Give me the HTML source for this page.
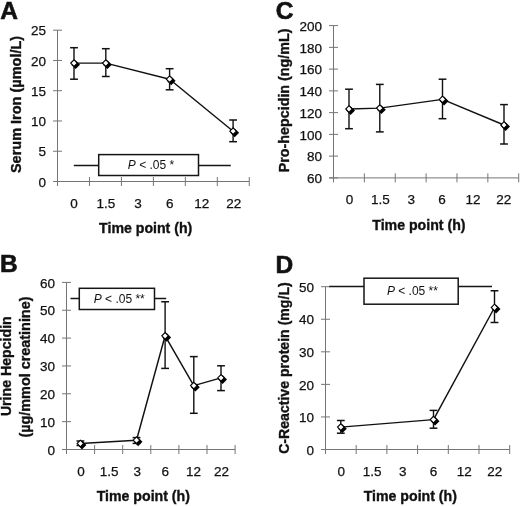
<!DOCTYPE html>
<html><head><meta charset="utf-8"><title>Figure</title>
<style>
html,body{margin:0;padding:0;background:#fff;}
body{width:520px;height:506px;overflow:hidden;}
svg{display:block;will-change:transform;font-family:"Liberation Sans",sans-serif;}
.t{stroke:#111;stroke-width:0.25px;}
.tb{stroke:#111;stroke-width:0.35px;}
</style></head>
<body>
<svg width="520" height="506" viewBox="0 0 520 506" fill="#111">
<rect width="520" height="506" fill="#fff"/>
<line x1="57.5" y1="30.2" x2="57.5" y2="181.5" stroke="#757575" stroke-width="1"/>
<line x1="53" y1="181.5" x2="249.26" y2="181.5" stroke="#757575" stroke-width="1"/>
<line x1="53" y1="181.5" x2="62" y2="181.5" stroke="#757575" stroke-width="1"/>
<text x="46" y="186.7" text-anchor="end" font-size="13.5" class="t">0</text>
<line x1="53" y1="151.24" x2="62" y2="151.24" stroke="#757575" stroke-width="1"/>
<text x="46" y="156.44" text-anchor="end" font-size="13.5" class="t">5</text>
<line x1="53" y1="120.98" x2="62" y2="120.98" stroke="#757575" stroke-width="1"/>
<text x="46" y="126.18" text-anchor="end" font-size="13.5" class="t">10</text>
<line x1="53" y1="90.72" x2="62" y2="90.72" stroke="#757575" stroke-width="1"/>
<text x="46" y="95.92" text-anchor="end" font-size="13.5" class="t">15</text>
<line x1="53" y1="60.46" x2="62" y2="60.46" stroke="#757575" stroke-width="1"/>
<text x="46" y="65.66" text-anchor="end" font-size="13.5" class="t">20</text>
<line x1="53" y1="30.2" x2="62" y2="30.2" stroke="#757575" stroke-width="1"/>
<text x="46" y="35.4" text-anchor="end" font-size="13.5" class="t">25</text>
<line x1="57.5" y1="177" x2="57.5" y2="186" stroke="#757575" stroke-width="1"/>
<line x1="89.46" y1="177" x2="89.46" y2="186" stroke="#757575" stroke-width="1"/>
<line x1="121.42" y1="177" x2="121.42" y2="186" stroke="#757575" stroke-width="1"/>
<line x1="153.38" y1="177" x2="153.38" y2="186" stroke="#757575" stroke-width="1"/>
<line x1="185.34" y1="177" x2="185.34" y2="186" stroke="#757575" stroke-width="1"/>
<line x1="217.3" y1="177" x2="217.3" y2="186" stroke="#757575" stroke-width="1"/>
<line x1="249.26" y1="177" x2="249.26" y2="186" stroke="#757575" stroke-width="1"/>
<text x="73.98" y="207.7" text-anchor="middle" font-size="13.5" class="t">0</text>
<text x="105.94" y="207.7" text-anchor="middle" font-size="13.5" class="t">1.5</text>
<text x="137.9" y="207.7" text-anchor="middle" font-size="13.5" class="t">3</text>
<text x="169.86" y="207.7" text-anchor="middle" font-size="13.5" class="t">6</text>
<text x="201.82" y="207.7" text-anchor="middle" font-size="13.5" class="t">12</text>
<text x="233.78" y="207.7" text-anchor="middle" font-size="13.5" class="t">22</text>
<text x="99.1" y="232.6" font-size="14.15" font-weight="bold" class="tb">Time point (h)</text>
<text transform="translate(21,104.45) rotate(-90)" x="0" y="0" text-anchor="middle" font-size="14.5" font-weight="bold" class="tb">Serum Iron (&#181;mol/L)</text>
<text x="0.3" y="19.3" font-size="24.5" font-weight="bold" stroke="#111" stroke-width="0.6">A</text>
<line x1="73.8" y1="165.5" x2="230.8" y2="165.5" stroke="#151515" stroke-width="1.35"/>
<rect x="98.7" y="154.6" width="99.8" height="20.9" fill="#fff" stroke="#151515" stroke-width="1.5"/>
<text x="127.8" y="169.3" font-size="12"><tspan font-style="italic">P</tspan> &lt; .05 *</text>
<line x1="74" y1="47.7" x2="74" y2="79.2" stroke="#111" stroke-width="1.4"/>
<line x1="70.1" y1="47.7" x2="77.9" y2="47.7" stroke="#111" stroke-width="1.5"/>
<line x1="70.1" y1="79.2" x2="77.9" y2="79.2" stroke="#111" stroke-width="1.5"/>
<line x1="105.8" y1="48.7" x2="105.8" y2="76.5" stroke="#111" stroke-width="1.4"/>
<line x1="101.9" y1="48.7" x2="109.7" y2="48.7" stroke="#111" stroke-width="1.5"/>
<line x1="101.9" y1="76.5" x2="109.7" y2="76.5" stroke="#111" stroke-width="1.5"/>
<line x1="169.6" y1="68.7" x2="169.6" y2="89.8" stroke="#111" stroke-width="1.4"/>
<line x1="165.7" y1="68.7" x2="173.5" y2="68.7" stroke="#111" stroke-width="1.5"/>
<line x1="165.7" y1="89.8" x2="173.5" y2="89.8" stroke="#111" stroke-width="1.5"/>
<line x1="233.1" y1="120" x2="233.1" y2="141.7" stroke="#111" stroke-width="1.4"/>
<line x1="229.2" y1="120" x2="237" y2="120" stroke="#111" stroke-width="1.5"/>
<line x1="229.2" y1="141.7" x2="237" y2="141.7" stroke="#111" stroke-width="1.5"/>
<polyline points="74,63.1 105.8,63.1 169.6,79.2 233.1,131.2" fill="none" stroke="#111" stroke-width="1.45" stroke-linejoin="round"/>
<path d="M75.6 60.3L80 64.7L75.6 69.1L71.2 64.7Z" fill="#000"/>
<path d="M74 59.8L77.3 63.1L74 66.4L70.7 63.1Z" fill="#fff" stroke="#000" stroke-width="1.1"/>
<path d="M107.4 60.3L111.8 64.7L107.4 69.1L103 64.7Z" fill="#000"/>
<path d="M105.8 59.8L109.1 63.1L105.8 66.4L102.5 63.1Z" fill="#fff" stroke="#000" stroke-width="1.1"/>
<path d="M171.2 76.4L175.6 80.8L171.2 85.2L166.8 80.8Z" fill="#000"/>
<path d="M169.6 75.9L172.9 79.2L169.6 82.5L166.3 79.2Z" fill="#fff" stroke="#000" stroke-width="1.1"/>
<path d="M234.7 128.4L239.1 132.8L234.7 137.2L230.3 132.8Z" fill="#000"/>
<path d="M233.1 127.9L236.4 131.2L233.1 134.5L229.8 131.2Z" fill="#fff" stroke="#000" stroke-width="1.1"/>
<line x1="333.5" y1="25.6" x2="333.5" y2="177.9" stroke="#757575" stroke-width="1"/>
<line x1="329" y1="177.9" x2="518.72" y2="177.9" stroke="#757575" stroke-width="1"/>
<line x1="329" y1="177.9" x2="338" y2="177.9" stroke="#757575" stroke-width="1"/>
<text x="322" y="183.1" text-anchor="end" font-size="13.5" class="t">60</text>
<line x1="329" y1="156.14" x2="338" y2="156.14" stroke="#757575" stroke-width="1"/>
<text x="322" y="161.34" text-anchor="end" font-size="13.5" class="t">80</text>
<line x1="329" y1="134.39" x2="338" y2="134.39" stroke="#757575" stroke-width="1"/>
<text x="322" y="139.59" text-anchor="end" font-size="13.5" class="t">100</text>
<line x1="329" y1="112.63" x2="338" y2="112.63" stroke="#757575" stroke-width="1"/>
<text x="322" y="117.83" text-anchor="end" font-size="13.5" class="t">120</text>
<line x1="329" y1="90.87" x2="338" y2="90.87" stroke="#757575" stroke-width="1"/>
<text x="322" y="96.07" text-anchor="end" font-size="13.5" class="t">140</text>
<line x1="329" y1="69.11" x2="338" y2="69.11" stroke="#757575" stroke-width="1"/>
<text x="322" y="74.31" text-anchor="end" font-size="13.5" class="t">160</text>
<line x1="329" y1="47.36" x2="338" y2="47.36" stroke="#757575" stroke-width="1"/>
<text x="322" y="52.56" text-anchor="end" font-size="13.5" class="t">180</text>
<line x1="329" y1="25.6" x2="338" y2="25.6" stroke="#757575" stroke-width="1"/>
<text x="322" y="30.8" text-anchor="end" font-size="13.5" class="t">200</text>
<line x1="333.5" y1="173.4" x2="333.5" y2="182.4" stroke="#757575" stroke-width="1"/>
<line x1="364.37" y1="173.4" x2="364.37" y2="182.4" stroke="#757575" stroke-width="1"/>
<line x1="395.24" y1="173.4" x2="395.24" y2="182.4" stroke="#757575" stroke-width="1"/>
<line x1="426.11" y1="173.4" x2="426.11" y2="182.4" stroke="#757575" stroke-width="1"/>
<line x1="456.98" y1="173.4" x2="456.98" y2="182.4" stroke="#757575" stroke-width="1"/>
<line x1="487.85" y1="173.4" x2="487.85" y2="182.4" stroke="#757575" stroke-width="1"/>
<line x1="518.72" y1="173.4" x2="518.72" y2="182.4" stroke="#757575" stroke-width="1"/>
<text x="349.44" y="204.1" text-anchor="middle" font-size="13.5" class="t">0</text>
<text x="380.31" y="204.1" text-anchor="middle" font-size="13.5" class="t">1.5</text>
<text x="411.18" y="204.1" text-anchor="middle" font-size="13.5" class="t">3</text>
<text x="442.05" y="204.1" text-anchor="middle" font-size="13.5" class="t">6</text>
<text x="472.91" y="204.1" text-anchor="middle" font-size="13.5" class="t">12</text>
<text x="503.78" y="204.1" text-anchor="middle" font-size="13.5" class="t">22</text>
<text x="372.3" y="229.6" font-size="14.15" font-weight="bold" class="tb">Time point (h)</text>
<text transform="translate(289.1,100.4) rotate(-90)" x="0" y="0" text-anchor="middle" font-size="14.3" font-weight="bold" class="tb">Pro-hepcidin (ng/mL)</text>
<text x="275.7" y="19.3" font-size="24.5" font-weight="bold" stroke="#111" stroke-width="0.6">C</text>
<line x1="349" y1="89.2" x2="349" y2="128.7" stroke="#111" stroke-width="1.4"/>
<line x1="345.1" y1="89.2" x2="352.9" y2="89.2" stroke="#111" stroke-width="1.5"/>
<line x1="345.1" y1="128.7" x2="352.9" y2="128.7" stroke="#111" stroke-width="1.5"/>
<line x1="379.8" y1="84.4" x2="379.8" y2="131.9" stroke="#111" stroke-width="1.4"/>
<line x1="375.9" y1="84.4" x2="383.7" y2="84.4" stroke="#111" stroke-width="1.5"/>
<line x1="375.9" y1="131.9" x2="383.7" y2="131.9" stroke="#111" stroke-width="1.5"/>
<line x1="442.5" y1="79.2" x2="442.5" y2="118.7" stroke="#111" stroke-width="1.4"/>
<line x1="438.6" y1="79.2" x2="446.4" y2="79.2" stroke="#111" stroke-width="1.5"/>
<line x1="438.6" y1="118.7" x2="446.4" y2="118.7" stroke="#111" stroke-width="1.5"/>
<line x1="504" y1="104.6" x2="504" y2="144" stroke="#111" stroke-width="1.4"/>
<line x1="500.1" y1="104.6" x2="507.9" y2="104.6" stroke="#111" stroke-width="1.5"/>
<line x1="500.1" y1="144" x2="507.9" y2="144" stroke="#111" stroke-width="1.5"/>
<polyline points="349,109 379.8,108.1 442.5,99.4 504,125" fill="none" stroke="#111" stroke-width="1.45" stroke-linejoin="round"/>
<path d="M350.6 106.2L355 110.6L350.6 115L346.2 110.6Z" fill="#000"/>
<path d="M349 105.7L352.3 109L349 112.3L345.7 109Z" fill="#fff" stroke="#000" stroke-width="1.1"/>
<path d="M381.4 105.3L385.8 109.7L381.4 114.1L377 109.7Z" fill="#000"/>
<path d="M379.8 104.8L383.1 108.1L379.8 111.4L376.5 108.1Z" fill="#fff" stroke="#000" stroke-width="1.1"/>
<path d="M444.1 96.6L448.5 101L444.1 105.4L439.7 101Z" fill="#000"/>
<path d="M442.5 96.1L445.8 99.4L442.5 102.7L439.2 99.4Z" fill="#fff" stroke="#000" stroke-width="1.1"/>
<path d="M505.6 122.2L510 126.6L505.6 131L501.2 126.6Z" fill="#000"/>
<path d="M504 121.7L507.3 125L504 128.3L500.7 125Z" fill="#fff" stroke="#000" stroke-width="1.1"/>
<line x1="66.5" y1="282.4" x2="66.5" y2="449.5" stroke="#757575" stroke-width="1"/>
<line x1="62" y1="449.5" x2="235.1" y2="449.5" stroke="#757575" stroke-width="1"/>
<line x1="62" y1="449.5" x2="71" y2="449.5" stroke="#757575" stroke-width="1"/>
<text x="55" y="454.7" text-anchor="end" font-size="13.5" class="t">0</text>
<line x1="62" y1="421.65" x2="71" y2="421.65" stroke="#757575" stroke-width="1"/>
<text x="55" y="426.85" text-anchor="end" font-size="13.5" class="t">10</text>
<line x1="62" y1="393.8" x2="71" y2="393.8" stroke="#757575" stroke-width="1"/>
<text x="55" y="399" text-anchor="end" font-size="13.5" class="t">20</text>
<line x1="62" y1="365.95" x2="71" y2="365.95" stroke="#757575" stroke-width="1"/>
<text x="55" y="371.15" text-anchor="end" font-size="13.5" class="t">30</text>
<line x1="62" y1="338.1" x2="71" y2="338.1" stroke="#757575" stroke-width="1"/>
<text x="55" y="343.3" text-anchor="end" font-size="13.5" class="t">40</text>
<line x1="62" y1="310.25" x2="71" y2="310.25" stroke="#757575" stroke-width="1"/>
<text x="55" y="315.45" text-anchor="end" font-size="13.5" class="t">50</text>
<line x1="62" y1="282.4" x2="71" y2="282.4" stroke="#757575" stroke-width="1"/>
<text x="55" y="287.6" text-anchor="end" font-size="13.5" class="t">60</text>
<line x1="66.5" y1="445" x2="66.5" y2="454" stroke="#757575" stroke-width="1"/>
<line x1="94.6" y1="445" x2="94.6" y2="454" stroke="#757575" stroke-width="1"/>
<line x1="122.7" y1="445" x2="122.7" y2="454" stroke="#757575" stroke-width="1"/>
<line x1="150.8" y1="445" x2="150.8" y2="454" stroke="#757575" stroke-width="1"/>
<line x1="178.9" y1="445" x2="178.9" y2="454" stroke="#757575" stroke-width="1"/>
<line x1="207" y1="445" x2="207" y2="454" stroke="#757575" stroke-width="1"/>
<line x1="235.1" y1="445" x2="235.1" y2="454" stroke="#757575" stroke-width="1"/>
<text x="81.05" y="475.7" text-anchor="middle" font-size="13.5" class="t">0</text>
<text x="109.15" y="475.7" text-anchor="middle" font-size="13.5" class="t">1.5</text>
<text x="137.25" y="475.7" text-anchor="middle" font-size="13.5" class="t">3</text>
<text x="165.35" y="475.7" text-anchor="middle" font-size="13.5" class="t">6</text>
<text x="193.45" y="475.7" text-anchor="middle" font-size="13.5" class="t">12</text>
<text x="221.55" y="475.7" text-anchor="middle" font-size="13.5" class="t">22</text>
<text x="96.7" y="501.3" font-size="14.15" font-weight="bold" class="tb">Time point (h)</text>
<text transform="translate(11,366.2) rotate(-90)" x="0" y="0" text-anchor="middle" font-size="14.15" font-weight="bold" class="tb">Urine Hepcidin</text>
<text transform="translate(29.9,367.05) rotate(-90)" x="0" y="0" text-anchor="middle" font-size="14.4" font-weight="bold" class="tb">(&#181;g/mmol creatinine)</text>
<text x="0" y="271.8" font-size="24.5" font-weight="bold" stroke="#111" stroke-width="0.6">B</text>
<line x1="70.5" y1="298.5" x2="166.2" y2="298.5" stroke="#151515" stroke-width="1.35"/>
<rect x="79.3" y="288.3" width="75.2" height="21.2" fill="#fff" stroke="#151515" stroke-width="1.5"/>
<text x="93.7" y="303" font-size="12"><tspan font-style="italic">P</tspan> &lt; .05 **</text>
<line x1="80.4" y1="441" x2="80.4" y2="445.5" stroke="#111" stroke-width="1.4"/>
<line x1="76.5" y1="441" x2="84.3" y2="441" stroke="#111" stroke-width="1.5"/>
<line x1="76.5" y1="445.5" x2="84.3" y2="445.5" stroke="#111" stroke-width="1.5"/>
<line x1="136.5" y1="437.6" x2="136.5" y2="443.4" stroke="#111" stroke-width="1.4"/>
<line x1="132.6" y1="437.6" x2="140.4" y2="437.6" stroke="#111" stroke-width="1.5"/>
<line x1="132.6" y1="443.4" x2="140.4" y2="443.4" stroke="#111" stroke-width="1.5"/>
<line x1="165.1" y1="301.75" x2="165.1" y2="368.4" stroke="#111" stroke-width="1.4"/>
<line x1="161.2" y1="301.75" x2="169" y2="301.75" stroke="#111" stroke-width="1.5"/>
<line x1="161.2" y1="368.4" x2="169" y2="368.4" stroke="#111" stroke-width="1.5"/>
<line x1="193.8" y1="356.6" x2="193.8" y2="413.3" stroke="#111" stroke-width="1.4"/>
<line x1="189.9" y1="356.6" x2="197.7" y2="356.6" stroke="#111" stroke-width="1.5"/>
<line x1="189.9" y1="413.3" x2="197.7" y2="413.3" stroke="#111" stroke-width="1.5"/>
<line x1="221" y1="365.8" x2="221" y2="390.6" stroke="#111" stroke-width="1.4"/>
<line x1="217.1" y1="365.8" x2="224.9" y2="365.8" stroke="#111" stroke-width="1.5"/>
<line x1="217.1" y1="390.6" x2="224.9" y2="390.6" stroke="#111" stroke-width="1.5"/>
<polyline points="80.4,443.5 136.5,440.2 165.1,335.8 193.8,385.6 221,377.9" fill="none" stroke="#111" stroke-width="1.45" stroke-linejoin="round"/>
<path d="M82 440.7L86.4 445.1L82 449.5L77.6 445.1Z" fill="#000"/>
<path d="M80.4 440.2L83.7 443.5L80.4 446.8L77.1 443.5Z" fill="#fff" stroke="#000" stroke-width="1.1"/>
<path d="M138.1 437.4L142.5 441.8L138.1 446.2L133.7 441.8Z" fill="#000"/>
<path d="M136.5 436.9L139.8 440.2L136.5 443.5L133.2 440.2Z" fill="#fff" stroke="#000" stroke-width="1.1"/>
<path d="M166.7 333L171.1 337.4L166.7 341.8L162.3 337.4Z" fill="#000"/>
<path d="M165.1 332.5L168.4 335.8L165.1 339.1L161.8 335.8Z" fill="#fff" stroke="#000" stroke-width="1.1"/>
<path d="M195.4 382.8L199.8 387.2L195.4 391.6L191 387.2Z" fill="#000"/>
<path d="M193.8 382.3L197.1 385.6L193.8 388.9L190.5 385.6Z" fill="#fff" stroke="#000" stroke-width="1.1"/>
<path d="M222.6 375.1L227 379.5L222.6 383.9L218.2 379.5Z" fill="#000"/>
<path d="M221 374.6L224.3 377.9L221 381.2L217.7 377.9Z" fill="#fff" stroke="#000" stroke-width="1.1"/>
<line x1="325.5" y1="286.7" x2="325.5" y2="449.5" stroke="#757575" stroke-width="1"/>
<line x1="321" y1="449.5" x2="509.7" y2="449.5" stroke="#757575" stroke-width="1"/>
<line x1="321" y1="449.5" x2="330" y2="449.5" stroke="#757575" stroke-width="1"/>
<text x="314" y="454.7" text-anchor="end" font-size="13.5" class="t">0</text>
<line x1="321" y1="416.94" x2="330" y2="416.94" stroke="#757575" stroke-width="1"/>
<text x="314" y="422.14" text-anchor="end" font-size="13.5" class="t">10</text>
<line x1="321" y1="384.38" x2="330" y2="384.38" stroke="#757575" stroke-width="1"/>
<text x="314" y="389.58" text-anchor="end" font-size="13.5" class="t">20</text>
<line x1="321" y1="351.82" x2="330" y2="351.82" stroke="#757575" stroke-width="1"/>
<text x="314" y="357.02" text-anchor="end" font-size="13.5" class="t">30</text>
<line x1="321" y1="319.26" x2="330" y2="319.26" stroke="#757575" stroke-width="1"/>
<text x="314" y="324.46" text-anchor="end" font-size="13.5" class="t">40</text>
<line x1="321" y1="286.7" x2="330" y2="286.7" stroke="#757575" stroke-width="1"/>
<text x="314" y="291.9" text-anchor="end" font-size="13.5" class="t">50</text>
<line x1="325.5" y1="445" x2="325.5" y2="454" stroke="#757575" stroke-width="1"/>
<line x1="356.2" y1="445" x2="356.2" y2="454" stroke="#757575" stroke-width="1"/>
<line x1="386.9" y1="445" x2="386.9" y2="454" stroke="#757575" stroke-width="1"/>
<line x1="417.6" y1="445" x2="417.6" y2="454" stroke="#757575" stroke-width="1"/>
<line x1="448.3" y1="445" x2="448.3" y2="454" stroke="#757575" stroke-width="1"/>
<line x1="479" y1="445" x2="479" y2="454" stroke="#757575" stroke-width="1"/>
<line x1="509.7" y1="445" x2="509.7" y2="454" stroke="#757575" stroke-width="1"/>
<text x="341.35" y="475.7" text-anchor="middle" font-size="13.5" class="t">0</text>
<text x="372.05" y="475.7" text-anchor="middle" font-size="13.5" class="t">1.5</text>
<text x="402.75" y="475.7" text-anchor="middle" font-size="13.5" class="t">3</text>
<text x="433.45" y="475.7" text-anchor="middle" font-size="13.5" class="t">6</text>
<text x="464.15" y="475.7" text-anchor="middle" font-size="13.5" class="t">12</text>
<text x="494.85" y="475.7" text-anchor="middle" font-size="13.5" class="t">22</text>
<text x="363.7" y="501.4" font-size="14.15" font-weight="bold" class="tb">Time point (h)</text>
<text transform="translate(289,368.05) rotate(-90)" x="0" y="0" text-anchor="middle" font-size="14.1" font-weight="bold" class="tb">C-Reactive protein (mg/L)</text>
<text x="275.6" y="272.5" font-size="24.5" font-weight="bold" stroke="#111" stroke-width="0.6">D</text>
<line x1="329.2" y1="286.5" x2="492" y2="286.5" stroke="#151515" stroke-width="1.35"/>
<rect x="364" y="278.2" width="94.2" height="26" fill="#fff" stroke="#151515" stroke-width="1.5"/>
<text x="386.9" y="294.7" font-size="12"><tspan font-style="italic">P</tspan> &lt; .05 **</text>
<line x1="340.8" y1="420.5" x2="340.8" y2="433.2" stroke="#111" stroke-width="1.4"/>
<line x1="336.9" y1="420.5" x2="344.7" y2="420.5" stroke="#111" stroke-width="1.5"/>
<line x1="336.9" y1="433.2" x2="344.7" y2="433.2" stroke="#111" stroke-width="1.5"/>
<line x1="433.5" y1="410.4" x2="433.5" y2="428.2" stroke="#111" stroke-width="1.4"/>
<line x1="429.6" y1="410.4" x2="437.4" y2="410.4" stroke="#111" stroke-width="1.5"/>
<line x1="429.6" y1="428.2" x2="437.4" y2="428.2" stroke="#111" stroke-width="1.5"/>
<line x1="494.5" y1="290.75" x2="494.5" y2="322.5" stroke="#111" stroke-width="1.4"/>
<line x1="490.6" y1="290.75" x2="498.4" y2="290.75" stroke="#111" stroke-width="1.5"/>
<line x1="490.6" y1="322.5" x2="498.4" y2="322.5" stroke="#111" stroke-width="1.5"/>
<polyline points="340.8,427.1 433.5,419.6 494.5,307.5" fill="none" stroke="#111" stroke-width="1.45" stroke-linejoin="round"/>
<path d="M342.4 424.3L346.8 428.7L342.4 433.1L338 428.7Z" fill="#000"/>
<path d="M340.8 423.8L344.1 427.1L340.8 430.4L337.5 427.1Z" fill="#fff" stroke="#000" stroke-width="1.1"/>
<path d="M435.1 416.8L439.5 421.2L435.1 425.6L430.7 421.2Z" fill="#000"/>
<path d="M433.5 416.3L436.8 419.6L433.5 422.9L430.2 419.6Z" fill="#fff" stroke="#000" stroke-width="1.1"/>
<path d="M496.1 304.7L500.5 309.1L496.1 313.5L491.7 309.1Z" fill="#000"/>
<path d="M494.5 304.2L497.8 307.5L494.5 310.8L491.2 307.5Z" fill="#fff" stroke="#000" stroke-width="1.1"/>
</svg>
</body></html>
